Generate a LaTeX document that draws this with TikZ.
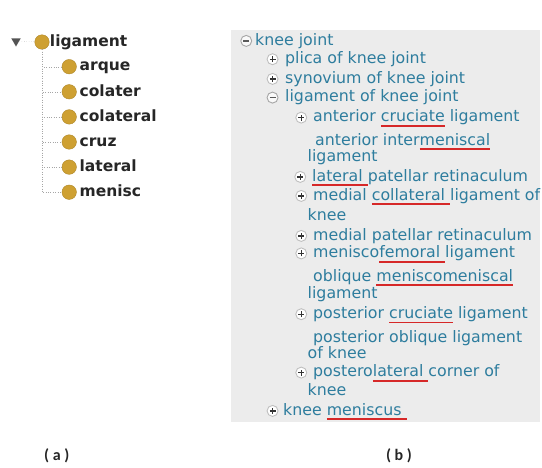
\documentclass[tikz,border=0pt]{standalone}
\usepackage{fontspec}
\setmainfont{DejaVu Sans}
\newfontfamily\captionfont{Carlito}
\usepackage{xcolor}
\usepackage{tikz}
\usetikzlibrary{shapes,positioning}

\definecolor{linkblue}{RGB}{46,125,158}
\definecolor{panelgray}{RGB}{236,236,236}
\definecolor{owlgold}{RGB}{206,160,50}
\definecolor{spellred}{RGB}{214,40,40}

\newcommand{\spellmark}[1]{\setbox0=\hbox{#1}\rlap{\color{spellred}\rule[-5pt]{\wd0}{1.7pt}}\box0\relax}

\begin{document}
\begin{tikzpicture}[
    x=1pt, y=-1pt,
    classdot/.style={circle, fill=owlgold, draw=owlgold!85!black, minimum size=14.5pt, inner sep=0pt},
    classname/.style={inner sep=0pt, text height=11.5pt, text depth=3pt, text=black!85, font=\bfseries\fontsize{15.5}{18}\selectfont},
    toggle/.style={regular polygon, regular polygon sides=3, shape border rotate=180, fill=gray!65!black, minimum size=11pt, inner sep=0pt},
    treeline/.style={dotted, gray!70},
    entry/.style={anchor=base west, inner sep=0pt, text height=11.5pt, text depth=3.3pt, text=linkblue, font=\fontsize{15.8}{19}\selectfont},
    expand/.style={circle, draw=gray!50, line width=0.9pt, fill=white, minimum size=11pt, inner sep=0pt, path picture={\draw[line width=1.4pt, black!80] (path picture bounding box.center) +(-3pt,0) -- +(3pt,0) (path picture bounding box.center) +(0,-3pt) -- +(0,3pt);}},
    collapse/.style={circle, draw=gray!70, line width=0.9pt, fill=gray!5, minimum size=11pt, inner sep=0pt, path picture={\draw[line width=1.4pt, gray!70!black] (path picture bounding box.center) +(-3pt,0) -- +(3pt,0);}},
    caption/.style={text=black!85, font=\captionfont\bfseries\fontsize{16}{18}\selectfont}
]
\useasboundingbox (0,0) rectangle (542,467);

% (a) class tree
\node[toggle] (toggle) at (16,41) {};
\node[classdot] (ligdot) at (42,42) {};
\node[classname, right=0.3pt of ligdot] (ligname) {ligament};

\node[classdot] (arquedot) at (69.2,66.7) {};
\node[classname, right=2.8pt of arquedot] (arquename) {arque};
\node[classdot, below=10.2pt of arquedot] (colaterdot) {};
\node[classname, right=2.8pt of colaterdot] (colatername) {colater};
\node[classdot, below=10.2pt of colaterdot] (colateraldot) {};
\node[classname, right=2.8pt of colateraldot] (colateralname) {colateral};
\node[classdot, below=10.2pt of colateraldot] (cruzdot) {};
\node[classname, right=2.8pt of cruzdot] (cruzname) {cruz};
\node[classdot, below=10.2pt of cruzdot] (lateraldot) {};
\node[classname, right=2.8pt of lateraldot] (lateralname) {lateral};
\node[classdot, below=10.2pt of lateraldot] (meniscdot) {};
\node[classname, right=2.8pt of meniscdot] (meniscname) {menisc};

\draw[treeline] (toggle) -- (ligdot);
\draw[treeline] (ligdot.south) |- (arquedot);
\draw[treeline] (ligdot.south) |- (colaterdot);
\draw[treeline] (ligdot.south) |- (colateraldot);
\draw[treeline] (ligdot.south) |- (cruzdot);
\draw[treeline] (ligdot.south) |- (lateraldot);
\draw[treeline] (ligdot.south) |- (meniscdot);

% (b) term hierarchy
\fill[panelgray] (231,30) rectangle (540,422);

\node[entry] (kneejoint) at (255,45) {knee joint};
\node[collapse, left=2.8pt of kneejoint] (kneejoint-icon) {};

\node[entry] (plica) at (285,63.3) {plica of knee joint};
\node[expand, left=6.5pt of plica] (plica-icon) {};
\node[entry] (synovium) at (285,83) {synovium of knee joint};
\node[expand, left=6.5pt of synovium] (synovium-icon) {};
\node[entry] (ligament) at (285,101.7) {ligament of knee joint};
\node[collapse, left=6.5pt of ligament] (ligament-icon) {};

\node[entry] (antcruciate) at (313,121.7) {anterior \spellmark{cruciate} ligament};
\node[expand, left=5.8pt of antcruciate] (antcruciate-icon) {};
\node[entry] (antinter) at (315,145) {anterior inter\spellmark{meniscal}};
\node[entry] (antinter-2) at (307.5,161.7) {ligament};
\node[entry] (latpatellar) at (312,181) {\spellmark{lateral\ }patellar retinaculum};
\node[expand, left=5.8pt of latpatellar] (latpatellar-icon) {};
\node[entry] (medcollateral) at (313,200) {medial \spellmark{collateral\ }ligament of};
\node[expand, left=5.8pt of medcollateral] (medcollateral-icon) {};
\node[entry] (medcollateral-2) at (307.5,220) {knee};
\node[entry] (medpatellar) at (313,240) {medial patellar retinaculum};
\node[expand, left=5.8pt of medpatellar] (medpatellar-icon) {};
\node[entry] (meniscofemoral) at (313,257.5) {menisco\spellmark{femoral\ }ligament};
\node[expand, left=5.8pt of meniscofemoral] (meniscofemoral-icon) {};
\node[entry] (oblmenisco) at (313,281) {oblique \spellmark{meniscomeniscal}};
\node[entry] (oblmenisco-2) at (307.5,298.3) {ligament};
\node[entry] (postcruciate) at (313,318.3) {posterior \spellmark{cruciate} ligament};
\node[expand, left=5.8pt of postcruciate] (postcruciate-icon) {};
\node[entry] (postoblique) at (313,342.3) {posterior oblique ligament};
\node[entry] (postoblique-2) at (307.5,358.3) {of knee};
\node[entry] (postlateral) at (313,376.7) {postero\spellmark{lateral\ }corner of};
\node[expand, left=5.8pt of postlateral] (postlateral-icon) {};
\node[entry] (postlateral-2) at (307.5,395) {knee};

\node[entry] (kneemeniscus) at (283,415) {knee \spellmark{meniscus\ }};
\node[expand, left=4.5pt of kneemeniscus] (kneemeniscus-icon) {};

% captions
\node[caption] (caption-a) at (56.7,456) {( a )};
\node[caption] (caption-b) at (399,456) {( b )};

\end{tikzpicture}
\end{document}
